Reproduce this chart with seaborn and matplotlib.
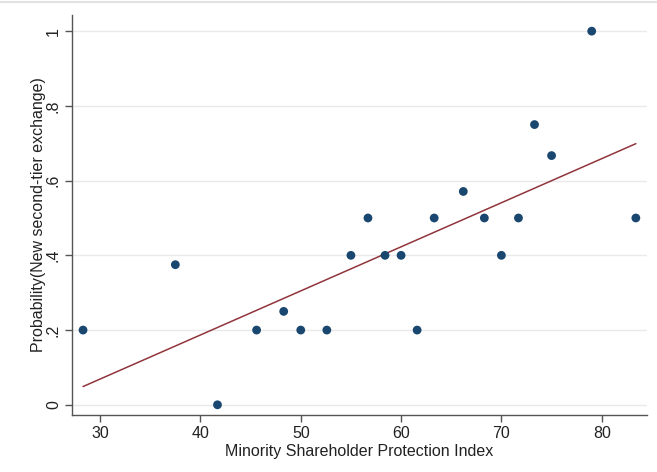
import numpy as np
import pandas as pd
import matplotlib
matplotlib.use("Agg")
import matplotlib.pyplot as plt
import seaborn as sns
from matplotlib.lines import Line2D

# values
protection_index = [28.3, 37.5, 41.7, 45.6, 48.3, 50.0, 52.6, 55.0, 56.7, 58.4, 60.0,
                    61.6, 63.3, 66.2, 68.3, 70.0, 71.7, 73.3, 75.0, 79.0, 83.4]
prob_new_exchange = [0.2, 0.375, 0.0, 0.2, 0.25, 0.2, 0.2, 0.4, 0.5, 0.4, 0.4,
                     0.2, 0.5, 0.571, 0.5, 0.4, 0.5, 0.75, 0.667, 1.0, 0.5]
x_ticks = [30, 40, 50, 60, 70, 80]
y_ticks = [0, 0.2, 0.4, 0.6, 0.8, 1.0]
y_tick_labels = ["0", ".2", ".4", ".6", ".8", "1"]

sns.set_theme(style="white")
plt.rcParams["font.family"] = ["Liberation Sans", "DejaVu Sans"]

df = pd.DataFrame({"x": protection_index, "y": prob_new_exchange})

fig = plt.figure(figsize=(6.57, 4.72), dpi=100)
ax = fig.add_axes([0.1096, 0.121, 0.875, 0.847])

sns.regplot(data=df, x="x", y="y", ci=None, ax=ax,
            scatter_kws={"s": 40, "color": "#1a476f", "alpha": 1.0,
                         "edgecolor": "none", "zorder": 3},
            line_kws={"color": "#90353b", "linewidth": 1.1, "zorder": 2})

ax.set_xlim(27.2, 84.5)
ax.set_ylim(-0.027, 1.043)
ax.set_xticks(x_ticks)
ax.set_yticks(y_ticks)
ax.set_yticklabels(y_tick_labels, rotation=90, va="center")
ax.yaxis.grid(True, color="#eaeaea", linewidth=1.0)
ax.set_axisbelow(True)

for side in ["top", "right"]:
    ax.spines[side].set_visible(False)
for side in ["left", "bottom"]:
    ax.spines[side].set_color("#555555")
    ax.spines[side].set_linewidth(1.0)

ax.tick_params(axis="both", which="major", direction="out", length=5, width=1.0,
               color="#555555", labelsize=11.5, labelcolor="#222222",
               left=True, bottom=True, pad=3)

ax.set_xlabel("Minority Shareholder Protection Index", fontsize=11.5, color="#222222", labelpad=2)
ax.set_ylabel("Probability(New second-tier exchange)", fontsize=11.5, color="#222222", labelpad=0)

# thin frame line at the top of the screenshot
fig.add_artist(Line2D([0, 1], [0.995, 0.995], transform=fig.transFigure,
                      color="#e2e2e2", linewidth=1.5))

fig.savefig("out.png", dpi=100)
